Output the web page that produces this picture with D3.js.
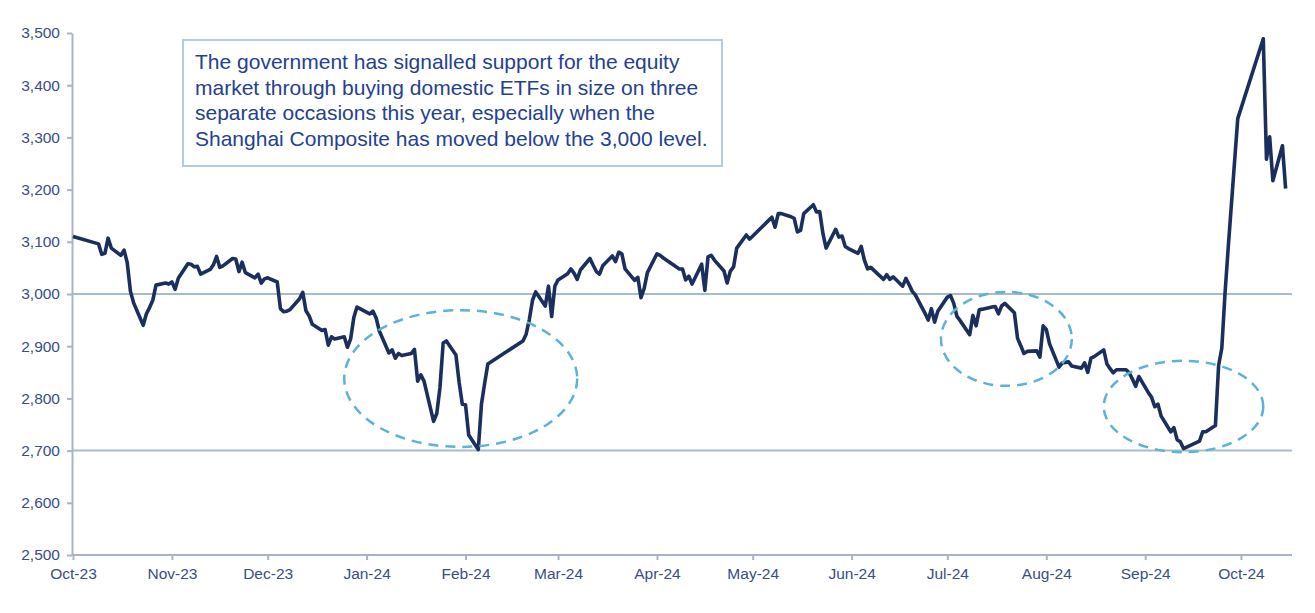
<!DOCTYPE html>
<html lang='en'>
<head>
  <meta charset='UTF-8'>
  <title>Shanghai Composite</title>
  <style>
  body {
    margin: 0;
    background: white;
  }
  text {
    font-family: 'Liberation Sans', Arial, sans-serif;
  }
  .axis text {
    font-size: 15.5px;
    fill: #3a4d85;
  }
  .axis path, .axis line {
    stroke: #a9b3c6;
    stroke-width: 2;
  }
  .ref {
    stroke: #a7bcc8;
    stroke-width: 2;
  }
  .index {
    fill: none;
    stroke: #1a2f5e;
    stroke-width: 3.6;
    stroke-linejoin: round;
  }
  .ring {
    fill: none;
    stroke: #5cb2d8;
    stroke-width: 2.5;
    stroke-dasharray: 10 7;
  }
  .note rect {
    fill: white;
    stroke: #b6ccd8;
    stroke-width: 2;
  }
  .note text {
    font-size: 21px;
    fill: #24418f;
  }
  </style>
  <script src='https://d3js.org/d3.v7.min.js'></script>
</head>
<body>
  <script>

  // Shanghai Composite closes
  var dates = [
    '2023-10-01','2023-10-09','2023-10-10','2023-10-11','2023-10-12','2023-10-13','2023-10-16','2023-10-17','2023-10-18','2023-10-19',
    '2023-10-20','2023-10-23','2023-10-24','2023-10-25','2023-10-26','2023-10-27','2023-10-30','2023-10-31','2023-11-01','2023-11-02',
    '2023-11-03','2023-11-06','2023-11-07','2023-11-08','2023-11-09','2023-11-10','2023-11-13','2023-11-14','2023-11-15','2023-11-16',
    '2023-11-17','2023-11-20','2023-11-21','2023-11-22','2023-11-23','2023-11-24','2023-11-27','2023-11-28','2023-11-29','2023-11-30',
    '2023-12-01','2023-12-04','2023-12-05','2023-12-06','2023-12-07','2023-12-08','2023-12-11','2023-12-12','2023-12-13','2023-12-14',
    '2023-12-15','2023-12-18','2023-12-19','2023-12-20','2023-12-21','2023-12-22','2023-12-25','2023-12-26','2023-12-27','2023-12-28',
    '2023-12-29','2024-01-02','2024-01-03','2024-01-04','2024-01-05','2024-01-08','2024-01-09','2024-01-10','2024-01-11','2024-01-12',
    '2024-01-15','2024-01-16','2024-01-17','2024-01-18','2024-01-19','2024-01-22','2024-01-23','2024-01-24','2024-01-25','2024-01-26',
    '2024-01-29','2024-01-30','2024-01-31','2024-02-01','2024-02-02','2024-02-05','2024-02-06','2024-02-07','2024-02-08','2024-02-19',
    '2024-02-20','2024-02-21','2024-02-22','2024-02-23','2024-02-26','2024-02-27','2024-02-28','2024-02-29','2024-03-01','2024-03-04',
    '2024-03-05','2024-03-06','2024-03-07','2024-03-08','2024-03-11','2024-03-12','2024-03-13','2024-03-14','2024-03-15','2024-03-18',
    '2024-03-19','2024-03-20','2024-03-21','2024-03-22','2024-03-25','2024-03-26','2024-03-27','2024-03-28','2024-03-29','2024-04-01',
    '2024-04-02','2024-04-03','2024-04-08','2024-04-09','2024-04-10','2024-04-11','2024-04-12','2024-04-15','2024-04-16','2024-04-17',
    '2024-04-18','2024-04-19','2024-04-22','2024-04-23','2024-04-24','2024-04-25','2024-04-26','2024-04-29','2024-04-30','2024-05-06',
    '2024-05-07','2024-05-08','2024-05-09','2024-05-10','2024-05-13','2024-05-14','2024-05-15','2024-05-16','2024-05-17','2024-05-20',
    '2024-05-21','2024-05-22','2024-05-23','2024-05-24','2024-05-27','2024-05-28','2024-05-29','2024-05-30','2024-05-31','2024-06-03',
    '2024-06-04','2024-06-05','2024-06-06','2024-06-07','2024-06-11','2024-06-12','2024-06-13','2024-06-14','2024-06-17','2024-06-18',
    '2024-06-19','2024-06-20','2024-06-21','2024-06-24','2024-06-25','2024-06-26','2024-06-27','2024-06-28','2024-07-01','2024-07-02',
    '2024-07-03','2024-07-04','2024-07-05','2024-07-08','2024-07-09','2024-07-10','2024-07-11','2024-07-12','2024-07-15','2024-07-16',
    '2024-07-17','2024-07-18','2024-07-19','2024-07-22','2024-07-23','2024-07-24','2024-07-25','2024-07-26','2024-07-29','2024-07-30',
    '2024-07-31','2024-08-01','2024-08-02','2024-08-05','2024-08-06','2024-08-07','2024-08-08','2024-08-09','2024-08-12','2024-08-13',
    '2024-08-14','2024-08-15','2024-08-16','2024-08-19','2024-08-20','2024-08-21','2024-08-22','2024-08-23','2024-08-26','2024-08-27',
    '2024-08-28','2024-08-29','2024-08-30','2024-09-02','2024-09-03','2024-09-04','2024-09-05','2024-09-06','2024-09-09','2024-09-10',
    '2024-09-11','2024-09-12','2024-09-13','2024-09-18','2024-09-19','2024-09-20','2024-09-23','2024-09-24','2024-09-25','2024-09-26',
    '2024-09-27','2024-09-30','2024-10-08','2024-10-09','2024-10-10','2024-10-11','2024-10-14','2024-10-15'
  ];

  var closes = [
    3110, 3096, 3076, 3078, 3107, 3088, 3074, 3084, 3060, 3005,
    2983, 2940, 2962, 2974, 2988, 3017, 3021, 3019, 3023, 3009,
    3030, 3058, 3057, 3052, 3053, 3038, 3047, 3056, 3072, 3051,
    3054, 3068, 3067, 3043, 3061, 3041, 3031, 3038, 3021, 3029,
    3031, 3023, 2972, 2966, 2967, 2970, 2991, 3003, 2968, 2958,
    2942, 2930, 2932, 2902, 2918, 2914, 2918, 2898, 2914, 2955,
    2975, 2962, 2967, 2954, 2929, 2887, 2893, 2877, 2886, 2882,
    2886, 2894, 2833, 2845, 2833, 2756, 2771, 2821, 2906, 2910,
    2883, 2831, 2789, 2788, 2730, 2702, 2789, 2829, 2866, 2910,
    2923, 2951, 2988, 3004, 2977, 3015, 2957, 3015, 3027, 3039,
    3048, 3040, 3028, 3046, 3068, 3055, 3043, 3038, 3054, 3073,
    3062, 3080, 3077, 3048, 3026, 3032, 2993, 3011, 3041, 3077,
    3074, 3069, 3048, 3048, 3027, 3034, 3019, 3057, 3007, 3071,
    3074, 3065, 3044, 3021, 3044, 3052, 3088, 3113, 3105, 3141,
    3147, 3128, 3154, 3154, 3148, 3145, 3119, 3122, 3154, 3171,
    3157, 3158, 3116, 3088, 3124, 3109, 3111, 3091, 3087, 3078,
    3091, 3065, 3048, 3051, 3028, 3037, 3028, 3033, 3015, 3030,
    3018, 3005, 2998, 2963, 2950, 2972, 2946, 2967, 2994, 2997,
    2982, 2957, 2949, 2922, 2959, 2939, 2970, 2971, 2975, 2976,
    2962, 2977, 2982, 2964, 2915, 2901, 2886, 2890, 2891, 2879,
    2939, 2932, 2905, 2860, 2868, 2869, 2870, 2862, 2858, 2868,
    2850, 2877, 2880, 2893, 2866, 2857, 2849, 2855, 2855, 2849,
    2837, 2823, 2842, 2811, 2802, 2784, 2789, 2766, 2736, 2744,
    2721, 2717, 2704, 2718, 2736, 2736, 2748, 2863, 2896, 3000,
    3088, 3336, 3489, 3258, 3301, 3217, 3284, 3202
  ];

  var yTicks = [2500, 2600, 2700, 2800, 2900, 3000, 3100, 3200, 3300, 3400, 3500];
  var refLevels = [3000, 2700];

  // ETF buying episodes: [from, to, low, high]
  var episodes = [
    ['2023-12-25', '2024-03-07', 2707, 2969],
    ['2024-06-29', '2024-08-09', 2824, 3004],
    ['2024-08-19', '2024-10-08', 2697, 2872]
  ];

  var noteLines = [
    'The government has signalled support for the equity',
    'market through buying domestic ETFs in size on three',
    'separate occasions this year, especially when the',
    'Shanghai Composite has moved below the 3,000 level.'
  ];

  var svgWidth = 1315;
  var svgHeight = 613;

  var plotLeft = 73, plotRight = 1292, plotTop = 33, plotBottom = 555;

  var svg = d3.select('body').append('svg')
    .attr('width', svgWidth)
    .attr('height', svgHeight);

  var parse = d3.utcParse('%Y-%m-%d');
  var series = dates.map(function (d, i) { return { date: parse(d), close: closes[i] }; });

  var x = d3.scaleUtc()
    .domain([parse('2023-10-01'), parse('2024-10-17')])
    .range([plotLeft, plotRight]);

  var y = d3.scaleLinear()
    .domain([2500, 3500])
    .range([plotBottom, plotTop]);

  // axes

  var xAxis = svg.append('g')
    .attr('class', 'axis')
    .attr('transform', 'translate(0,' + plotBottom + ')')
    .call(d3.axisBottom(x)
      .ticks(d3.utcMonth.every(1))
      .tickFormat(d3.utcFormat('%b-%y'))
      .tickSize(5)
      .tickSizeOuter(0));
  xAxis.select('.domain').attr('d', 'M' + (plotLeft - 1) + ',0H' + plotRight);
  xAxis.selectAll('text').attr('dy', '1.05em');

  var yAxis = svg.append('g')
    .attr('class', 'axis')
    .attr('transform', 'translate(' + (plotLeft - 1) + ',0)')
    .call(d3.axisLeft(y)
      .tickValues(yTicks)
      .tickFormat(d3.format(','))
      .tickSize(5)
      .tickSizeOuter(0));
  yAxis.selectAll('text').attr('x', -12);

  // reference levels

  svg.selectAll('.ref')
    .data(refLevels)
    .enter()
    .append('line')
    .attr('class', 'ref')
    .attr('x1', plotLeft)
    .attr('x2', plotRight)
    .attr('y1', function (d) { return y(d); })
    .attr('y2', function (d) { return y(d); });

  // index line

  var line = d3.line()
    .x(function (d) { return x(d.date); })
    .y(function (d) { return y(d.close); });

  svg.append('path')
    .datum(series)
    .attr('class', 'index')
    .attr('d', line);

  // dashed rings round the buying episodes

  svg.selectAll('.ring')
    .data(episodes)
    .enter()
    .append('ellipse')
    .attr('class', 'ring')
    .attr('cx', function (d) { return (x(parse(d[0])) + x(parse(d[1]))) / 2; })
    .attr('cy', function (d) { return (y(d[2]) + y(d[3])) / 2; })
    .attr('rx', function (d) { return (x(parse(d[1])) - x(parse(d[0]))) / 2; })
    .attr('ry', function (d) { return (y(d[2]) - y(d[3])) / 2; });

  // annotation box

  var note = svg.append('g').attr('class', 'note');

  note.append('rect')
    .attr('x', 183)
    .attr('y', 40)
    .attr('width', 539)
    .attr('height', 126);

  note.selectAll('text')
    .data(noteLines)
    .enter()
    .append('text')
    .attr('x', 195)
    .attr('y', function (d, i) { return 69 + i * 25.5; })
    .text(function (d) { return d; });
  </script>
</body>
</html>
